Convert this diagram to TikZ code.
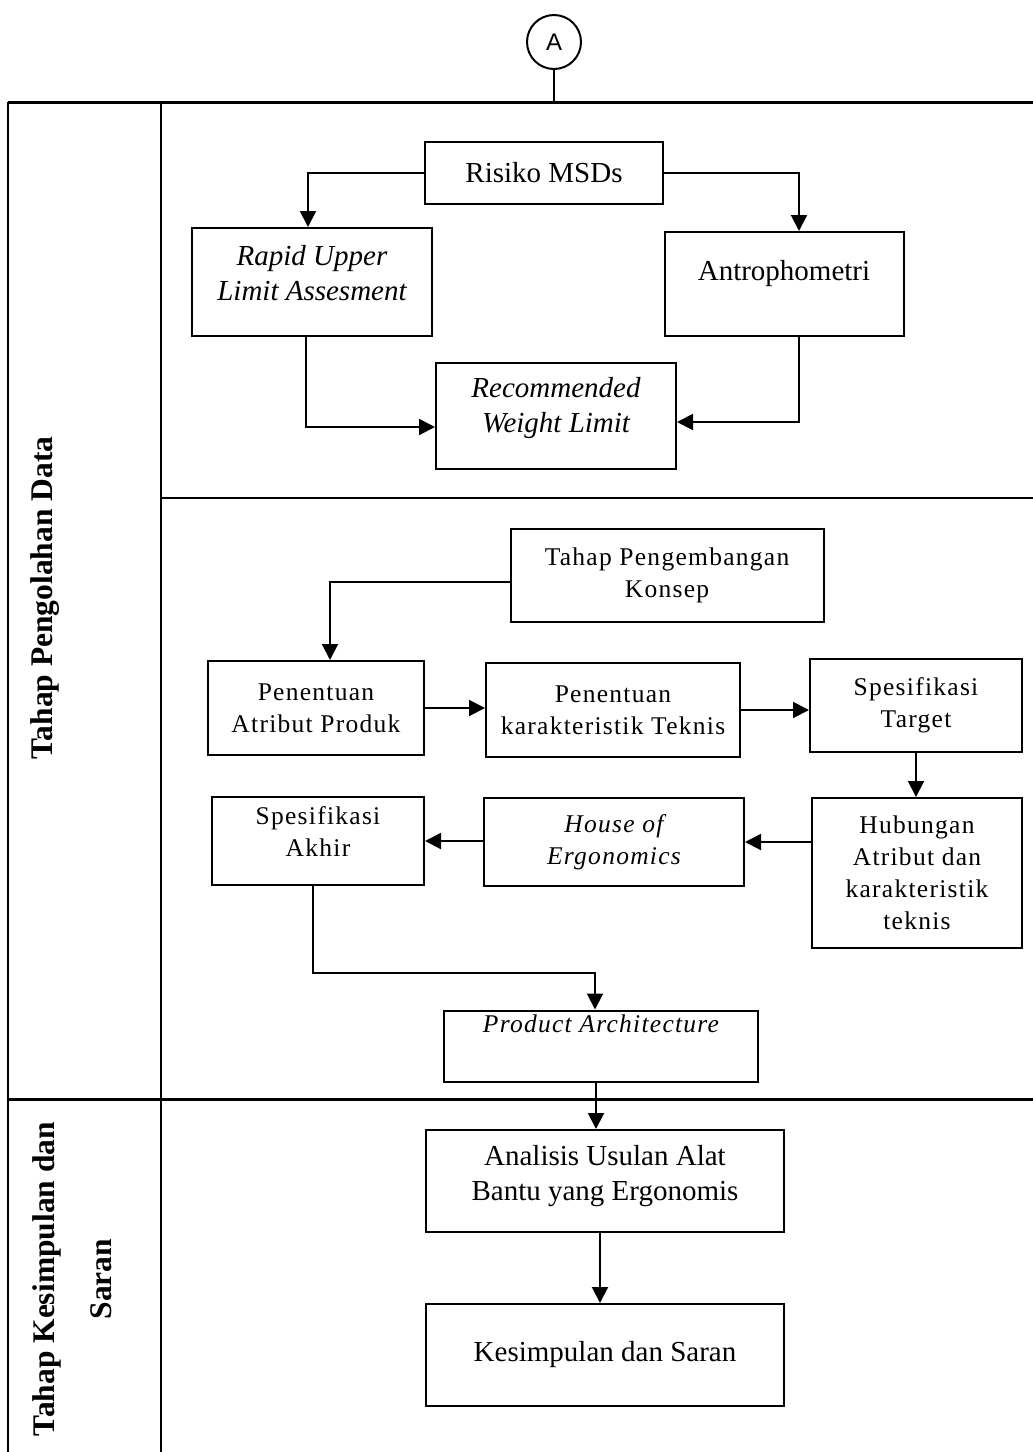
\documentclass[tikz,border=0pt]{standalone}
\usepackage{fontspec}
\setmainfont{Liberation Serif}
\newfontfamily\spacedserif[LetterSpace=5]{Liberation Serif}
\newfontfamily\connfont{Liberation Sans}
\usetikzlibrary{arrows.meta}

\begin{document}
\begin{tikzpicture}
[x=1pt,y=-1pt,
  flowArrow/.style={-{Triangle[length=16pt,width=16pt]},line width=2pt},%
  frameLine/.style={line width=2pt},%
  thickFrame/.style={line width=3pt},%
  bigBox/.style={draw,line width=2pt,align=center,inner sep=2pt,font=\fontsize{29}{35}\selectfont},%
  bigItalic/.style={bigBox,font=\fontsize{29}{35}\selectfont\itshape},%
  smallBox/.style={draw,line width=2pt,align=center,inner sep=2pt,font=\spacedserif\fontsize{25.5}{32}\selectfont},%
  smallItalic/.style={smallBox,font=\spacedserif\fontsize{25.5}{32}\selectfont\itshape},%
  phaseLabel/.style={rotate=90,align=center,font=\fontsize{31.5}{57}\selectfont\bfseries}]
\useasboundingbox (0,0) rectangle (1033,1452);
%% frame of the chart
\draw[thickFrame] (8,102) -- (1033,102);
\draw[frameLine] (8,102) -- (8,1452);
\draw[frameLine] (161,102) -- (161,1452);
\draw[frameLine] (161,498) -- (1033,498);
\draw[thickFrame] (8,1099) -- (1033,1099);
\node (labelOlah) at (45,598) [phaseLabel] {Tahap Pengolahan Data};
\node (labelSimpul) at (72,1279) [phaseLabel] {Tahap Kesimpulan dan\\Saran};
%% connector
\node (conA) at (554,42) [circle,draw,line width=2pt,minimum size=54pt,inner sep=0pt,font=\connfont\fontsize{24}{28}\selectfont] {A};
\coordinate (topLine) at (554,102);
\draw[frameLine] (conA) -- (topLine);
%% data processing, first part
\node (risiko) at (544,173) [bigBox,minimum width=238pt,minimum height=62pt] {Risiko MSDs};
\node (rula) at (312,282) [bigItalic,minimum width=240pt,minimum height=108pt,text depth=18pt] {Rapid Upper\\Limit Assesment};
\node (antro) at (784,284) [bigBox,minimum width=239pt,minimum height=104pt,text depth=28pt] {Antrophometri};
\node (rwl) at (556,416) [bigItalic,minimum width=240pt,minimum height=106pt,text depth=22pt] {Recommended\\Weight Limit};
\draw[flowArrow] (risiko.west) -| ([xshift=-4pt]rula.north);
\draw[flowArrow] (risiko.east) -| ([xshift=15pt]antro.north);
\draw[flowArrow] ([xshift=-6pt]rula.south) |- ([yshift=-11pt]rwl.west);
\draw[flowArrow] ([xshift=15pt]antro.south) |- ([yshift=-6pt]rwl.east);
%% data processing, concept development
\node (konsep) at (667,575) [smallBox,minimum width=313pt,minimum height=93pt] {Tahap Pengembangan\\Konsep};
\node (atribut) at (316,708) [smallBox,minimum width=216pt,minimum height=94pt] {Penentuan\\Atribut Produk};
\node (teknis) at (613,710) [smallBox,minimum width=254pt,minimum height=94pt] {Penentuan\\karakteristik Teknis};
\node (target) at (916,705) [smallBox,minimum width=212pt,minimum height=93pt] {Spesifikasi\\Target};
\node (hubungan) at (917,873) [smallBox,minimum width=210pt,minimum height=150pt] {Hubungan\\Atribut dan\\karakteristik\\teknis};
\node (house) at (614,842) [smallItalic,minimum width=260pt,minimum height=88pt] {House of\\Ergonomics};
\node (akhir) at (318,841) [smallBox,minimum width=212pt,minimum height=88pt,text depth=18pt] {Spesifikasi\\Akhir};
\node (product) at (601,1046) [smallItalic,minimum width=314pt,minimum height=71pt,text depth=44pt] {Product Architecture};
\draw[flowArrow] ([yshift=-7pt]konsep.west) -| ([xshift=14pt]atribut.north);
\foreach \startnode/\endnode in {atribut/teknis, teknis/target}
{
  \draw[flowArrow] (\startnode.east) -- (\startnode.east -| \endnode.west);
}
\foreach \startnode/\endnode in {hubungan/house, house/akhir}
{
  \draw[flowArrow] (\endnode.east -| \startnode.west) -- (\endnode.east);
}
\draw[flowArrow] (target.south) -- (target.south |- hubungan.north);
\draw[flowArrow] ([xshift=-5pt]akhir.south) -- ++(0,87) -| ([xshift=-6pt]product.north);
%% conclusions
\node (analisis) at (605,1181) [bigBox,minimum width=358pt,minimum height=102pt,text depth=16pt] {Analisis Usulan Alat\\Bantu yang Ergonomis};
\node (kesimpulan) at (605,1355) [bigBox,minimum width=358pt,minimum height=102pt] {Kesimpulan dan Saran};
\foreach \startnode/\endnode in {product/analisis, analisis/kesimpulan}
{
  \draw[flowArrow] ([xshift=-5pt]\startnode.south) -- ([xshift=-5pt]\startnode.south |- \endnode.north);
}
\end{tikzpicture}
\end{document}
